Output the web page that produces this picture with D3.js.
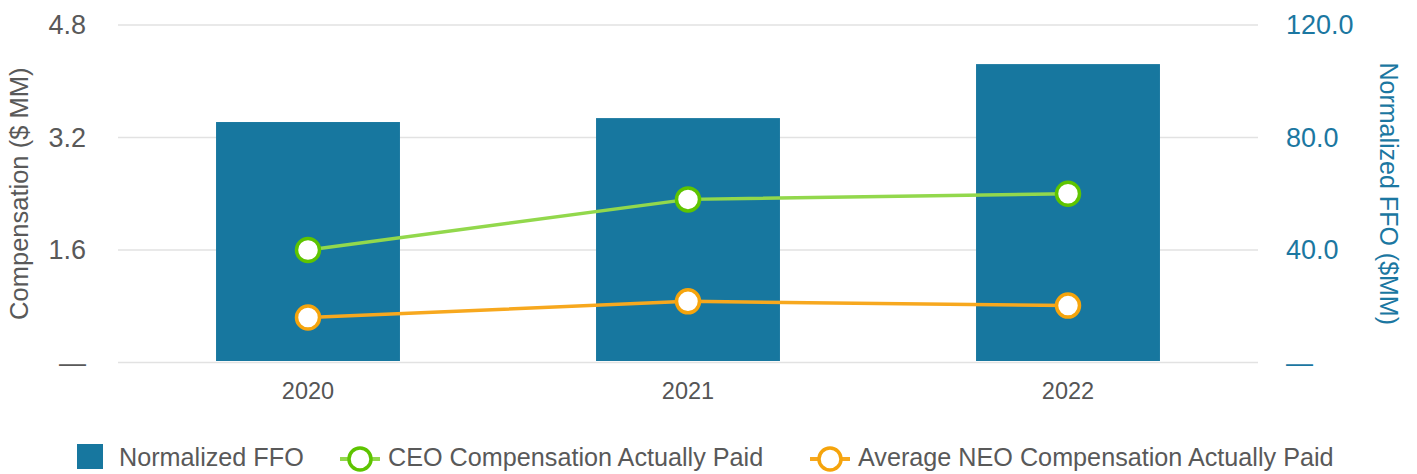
<!DOCTYPE html>
<html lang="en">
<head>
<meta charset="UTF-8">
<title>Pay versus Performance</title>
<script src="https://d3js.org/d3.v7.min.js"></script>
<style>
  html, body { margin: 0; padding: 0; background: #fff; }
  svg { display: block; font-family: "Liberation Sans", Arial, sans-serif; }
</style>
</head>
<body>
<svg id="chart"></svg>
<script>
// données
const years = ["2020", "2021", "2022"];
const ffoValues = [85.5, 86.9, 106.1];          // Normalized FFO ($MM)
const ceoValues = [1.60, 2.32, 2.40];           // CEO Compensation Actually Paid ($MM)
const neoValues = [0.64, 0.87, 0.81];           // Average NEO Compensation Actually Paid ($MM)
const leftTicks = [0, 1.6, 3.2, 4.8];
const rightTicks = [0, 40, 80, 120];

const width = 1417, height = 474;
const margin = { top: 25, right: 159, bottom: 111.5, left: 118 };

const svg = d3.select("#chart").attr("width", width).attr("height", height);

const x = d3.scaleBand()
  .domain(years)
  .range([margin.left, width - margin.right])
  .paddingInner(0.516)
  .paddingOuter(0.258);

const yLeft = d3.scaleLinear().domain([0, 4.8]).range([height - margin.bottom, margin.top]);
const yRight = d3.scaleLinear().domain([0, 120]).range([height - margin.bottom, margin.top]);

// grille
svg.append("g")
  .selectAll("line")
  .data(leftTicks)
  .enter().append("line")
  .attr("x1", margin.left)
  .attr("x2", width - margin.right)
  .attr("y1", d => yLeft(d))
  .attr("y2", d => yLeft(d))
  .attr("stroke", "#e2e2e2")
  .attr("stroke-width", 1.5);

// axe gauche
const leftAxis = d3.axisLeft(yLeft)
  .tickValues(leftTicks)
  .tickSize(0)
  .tickPadding(32)
  .tickFormat(d => d === 0 ? "\u2014" : d3.format(".1f")(d));
const gl = svg.append("g").attr("transform", `translate(${margin.left},0)`).call(leftAxis);
gl.select(".domain").remove();
gl.selectAll("text").attr("fill", "#595959").attr("font-size", 27).attr("font-family", null);

// axe droit
const rightAxis = d3.axisRight(yRight)
  .tickValues(rightTicks)
  .tickSize(0)
  .tickPadding(28)
  .tickFormat(d => d === 0 ? "\u2014" : d3.format(".1f")(d));
const gr = svg.append("g").attr("transform", `translate(${width - margin.right},0)`).call(rightAxis);
gr.select(".domain").remove();
gr.selectAll("text").attr("fill", "#1b77a1").attr("font-size", 27).attr("font-family", null);

// axe x
const bottomAxis = d3.axisBottom(x).tickSize(0).tickPadding(20);
const gx = svg.append("g").attr("transform", `translate(0,${height - margin.bottom})`).call(bottomAxis);
gx.select(".domain").remove();
gx.selectAll("text").attr("fill", "#555").attr("font-size", 23.5).attr("font-family", null);

// titres des axes
const midY = (margin.top + height - margin.bottom) / 2;
svg.append("text")
  .attr("transform", `translate(28,${midY}) rotate(-90)`)
  .attr("text-anchor", "middle")
  .attr("font-size", 25.5)
  .attr("fill", "#595959")
  .text("Compensation ($ MM)");

svg.append("text")
  .attr("transform", `translate(1380,${midY}) rotate(90)`)
  .attr("text-anchor", "middle")
  .attr("font-size", 25)
  .attr("fill", "#1b77a1")
  .text("Normalized FFO ($MM)");

// barres
svg.append("g")
  .selectAll("rect")
  .data(years)
  .enter().append("rect")
  .attr("x", d => x(d))
  .attr("width", x.bandwidth())
  .attr("y", (d, i) => yRight(ffoValues[i]))
  .attr("height", (d, i) => yRight(0) - yRight(ffoValues[i]) - 1.5)
  .attr("fill", "#17779f");

// lignes
const series = [
  { name: "CEO Compensation Actually Paid", values: ceoValues, line: "#92d84c", marker: "#5ec400" },
  { name: "Average NEO Compensation Actually Paid", values: neoValues, line: "#f7a81e", marker: "#f5a40c" }
];

const lineGen = d3.line()
  .x((d, i) => x(years[i]) + x.bandwidth() / 2)
  .y(d => yLeft(d));

series.forEach(s => {
  svg.append("path")
    .attr("d", lineGen(s.values))
    .attr("fill", "none")
    .attr("stroke", s.line)
    .attr("stroke-width", 3.5);

  svg.append("g")
    .selectAll("circle")
    .data(s.values)
    .enter().append("circle")
    .attr("cx", (d, i) => x(years[i]) + x.bandwidth() / 2)
    .attr("cy", d => yLeft(d))
    .attr("r", 11.5)
    .attr("fill", "#fff")
    .attr("stroke", s.marker)
    .attr("stroke-width", 3.5);
});

// légende
const legend = svg.append("g").attr("class", "legend");
const legendY = 457;

legend.append("rect")
  .attr("x", 77).attr("y", 444)
  .attr("width", 26).attr("height", 25)
  .attr("fill", "#17779f");
legend.append("text")
  .attr("x", 119).attr("y", legendY).attr("dy", "0.35em")
  .attr("font-size", 25.2)
  .attr("fill", "#595959")
  .text("Normalized FFO");

const legendItems = [
  { s: series[0], cx: 360, tx: 388 },
  { s: series[1], cx: 830, tx: 858 }
];
legendItems.forEach(it => {
  legend.append("line")
    .attr("x1", it.cx - 20).attr("x2", it.cx + 20)
    .attr("y1", legendY + 2).attr("y2", legendY + 2)
    .attr("stroke", it.s.line).attr("stroke-width", 4);
  legend.append("circle")
    .attr("cx", it.cx).attr("cy", legendY + 2)
    .attr("r", 11)
    .attr("fill", "#fff")
    .attr("stroke", it.s.marker)
    .attr("stroke-width", 3.5);
  legend.append("text")
    .attr("x", it.tx).attr("y", legendY).attr("dy", "0.35em")
    .attr("font-size", 25.2)
    .attr("fill", "#595959")
    .text(it.s.name);
});
</script>
</body>
</html>
